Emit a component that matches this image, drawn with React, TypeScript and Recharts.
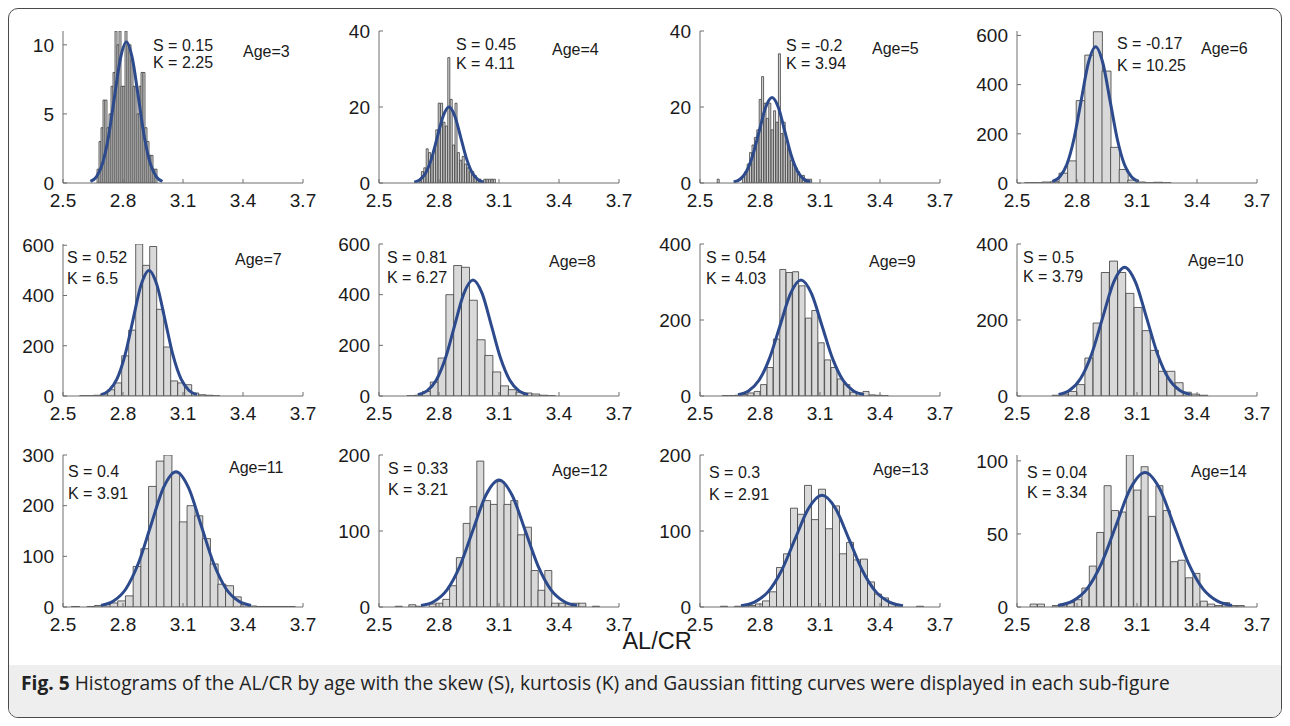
import React from "react";
import { ComposedChart, Bar, Line, XAxis, YAxis } from "recharts";

// ---- data ----
const AGES = [3, 4, 5, 6, 7, 8, 9, 10, 11, 12, 13, 14];
const SKEW = ["0.15", "0.45", "-0.2", "-0.17", "0.52", "0.81", "0.54", "0.5", "0.4", "0.33", "0.3", "0.04"];
const KURT = ["2.25", "4.11", "3.94", "10.25", "6.5", "6.27", "4.03", "3.79", "3.91", "3.21", "2.91", "3.34"];
const X_TICKS = [2.5, 2.8, 3.1, 3.4, 3.7];
const Y_MAX = [11, 40, 40, 618, 605, 600, 400, 400, 300, 200, 200, 104];
const Y_TICKS = [
  [0, 5, 10], [0, 20, 40], [0, 20, 40], [0, 200, 400, 600],
  [0, 200, 400, 600], [0, 200, 400, 600], [0, 200, 400], [0, 200, 400],
  [0, 100, 200, 300], [0, 100, 200], [0, 100, 200], [0, 50, 100],
];

const age3Bins = [2.675, 2.685, 2.695, 2.705, 2.715, 2.725, 2.735, 2.745, 2.755, 2.765, 2.775, 2.785, 2.795, 2.805, 2.815, 2.825, 2.835, 2.845, 2.855, 2.865, 2.875, 2.885, 2.895, 2.905, 2.915, 2.925, 2.935, 2.945, 2.955, 2.965];
const age3Counts = [1, 3, 4, 6, 6, 4, 5, 7, 8, 11, 10, 11, 7, 7, 11, 10, 10, 9, 7, 7, 5, 7, 8, 8, 4, 3, 2, 2, 1, 1];
const age3FitX = [2.637, 2.667, 2.697, 2.727, 2.757, 2.787, 2.817, 2.847, 2.877, 2.907, 2.937, 2.967, 2.997];
const age3FitY = [0.11, 0.45, 1.38, 3.31, 6.19, 9.0, 10.2, 9.0, 6.19, 3.31, 1.38, 0.45, 0.11];

const age4Bins = [2.706, 2.718, 2.73, 2.742, 2.754, 2.766, 2.778, 2.79, 2.802, 2.814, 2.826, 2.838, 2.85, 2.862, 2.874, 2.886, 2.898, 2.91, 2.922, 2.934, 2.946, 2.958, 2.97, 2.982, 2.994, 3.006, 3.018, 3.03, 3.042, 3.054, 3.066, 3.078];
const age4Counts = [1, 3, 4, 9, 8, 7, 9, 14, 21, 21, 16, 15, 33, 22, 10, 21, 8, 6, 7, 5, 4, 3, 3, 2, 1, 1, 0, 1, 1, 1, 1, 1];
const age4FitX = [2.676, 2.705, 2.734, 2.763, 2.792, 2.821, 2.85, 2.879, 2.908, 2.937, 2.966, 2.995, 3.024];
const age4FitY = [0.22, 0.88, 2.71, 6.49, 12.13, 17.65, 20, 17.65, 12.13, 6.49, 2.71, 0.88, 0.22];

const age5Bins = [2.592, 2.718, 2.73, 2.742, 2.754, 2.766, 2.778, 2.79, 2.802, 2.814, 2.826, 2.838, 2.85, 2.862, 2.874, 2.886, 2.898, 2.91, 2.922, 2.934, 2.946, 2.958, 2.97, 2.982, 2.994, 3.006, 3.018, 3.03, 3.042, 3.054];
const age5Counts = [1, 2, 3, 5, 8, 10, 12, 14, 22, 28, 21, 17, 21, 14, 19, 16, 34, 13, 16, 11, 9, 6, 5, 4, 3, 2, 2, 1, 1, 1];
const age5FitX = [2.668, 2.7, 2.732, 2.764, 2.796, 2.828, 2.86, 2.892, 2.924, 2.956, 2.988, 3.02, 3.052];
const age5FitY = [0.25, 0.99, 3.04, 7.31, 13.65, 19.86, 22.5, 19.86, 13.65, 7.31, 3.04, 0.99, 0.25];

const age6Bins = [2.5595, 2.6025, 2.6455, 2.6885, 2.7315, 2.7745, 2.8175, 2.8605, 2.9035, 2.9465, 2.9895, 3.0325, 3.0755, 3.1185, 3.1615, 3.2045, 3.2475];
const age6Counts = [1, 1, 4, 5, 40, 90, 335, 520, 615, 455, 145, 55, 12, 4, 1, 3, 1];
const age6FitX = [2.677, 2.713, 2.749, 2.785, 2.821, 2.857, 2.893, 2.929, 2.965, 3.001, 3.037, 3.073, 3.109];
const age6FitY = [6.1, 24.3, 75.0, 179.9, 336.0, 488.9, 554, 488.9, 336.0, 179.9, 75.0, 24.3, 6.1];

const age7Bins = [2.601, 2.636, 2.671, 2.706, 2.741, 2.776, 2.811, 2.846, 2.881, 2.916, 2.951, 2.986, 3.021, 3.056, 3.091, 3.126, 3.161, 3.196, 3.231, 3.266];
const age7Counts = [1, 1, 3, 8, 25, 52, 160, 262, 605, 520, 595, 345, 195, 60, 52, 45, 12, 5, 3, 1];
const age7FitX = [2.69, 2.73, 2.77, 2.81, 2.85, 2.89, 2.93, 2.97, 3.01, 3.05, 3.09, 3.13, 3.17];
const age7FitY = [5.6, 22.0, 67.7, 162.4, 303.3, 441.3, 500, 441.3, 303.3, 162.4, 67.7, 22.0, 5.6];

const age8Bins = [2.659, 2.698, 2.737, 2.776, 2.815, 2.854, 2.893, 2.932, 2.971, 3.01, 3.049, 3.088, 3.127, 3.166, 3.205, 3.244, 3.283, 3.322, 3.361];
const age8Counts = [1, 3, 18, 55, 150, 400, 515, 508, 378, 222, 160, 95, 40, 25, 15, 12, 8, 3, 1];
const age8FitX = [2.694, 2.74, 2.786, 2.832, 2.878, 2.924, 2.97, 3.016, 3.062, 3.108, 3.154, 3.2, 3.246];
const age8FitY = [5.1, 20.1, 62.0, 148.7, 277.8, 404.2, 458, 404.2, 277.8, 148.7, 62.0, 20.1, 5.1];

const age9Bins = [2.627, 2.659, 2.691, 2.723, 2.755, 2.787, 2.819, 2.851, 2.883, 2.915, 2.947, 2.979, 3.011, 3.043, 3.075, 3.107, 3.139, 3.171, 3.203, 3.235, 3.267, 3.299, 3.331, 3.363, 3.395, 3.427];
const age9Counts = [1, 1, 2, 4, 8, 12, 30, 75, 150, 333, 325, 327, 290, 205, 225, 140, 95, 75, 45, 30, 10, 8, 12, 3, 2, 1];
const age9FitX = [2.69, 2.7425, 2.795, 2.8475, 2.9, 2.9525, 3.005, 3.0575, 3.11, 3.1625, 3.215, 3.2675, 3.32];
const age9FitY = [3.4, 13.4, 41.3, 99.0, 185.0, 269.2, 305, 269.2, 185.0, 99.0, 41.3, 13.4, 3.4];

const age10Bins = [2.696, 2.737, 2.778, 2.819, 2.86, 2.901, 2.942, 2.983, 3.024, 3.065, 3.106, 3.147, 3.188, 3.229, 3.27, 3.311, 3.352, 3.393, 3.434];
const age10Counts = [2, 5, 12, 30, 100, 192, 325, 355, 325, 270, 233, 172, 120, 65, 65, 35, 10, 5, 2];
const age10FitX = [2.708, 2.763, 2.818, 2.873, 2.928, 2.983, 3.038, 3.093, 3.148, 3.203, 3.258, 3.313, 3.368];
const age10FitY = [3.8, 14.9, 45.9, 110.1, 205.6, 299.2, 339, 299.2, 205.6, 110.1, 45.9, 14.9, 3.8];

const age11Bins = [2.562, 2.6005, 2.639, 2.6775, 2.716, 2.7545, 2.793, 2.8315, 2.87, 2.9085, 2.947, 2.9855, 3.024, 3.0625, 3.101, 3.1395, 3.178, 3.2165, 3.255, 3.2935, 3.332, 3.3705, 3.409, 3.4475, 3.486, 3.5245, 3.563, 3.6015, 3.64];
const age11Counts = [1, 0, 1, 3, 5, 8, 12, 22, 80, 115, 238, 288, 300, 265, 168, 200, 180, 135, 85, 45, 42, 20, 5, 2, 1, 1, 1, 1, 1];
const age11FitX = [2.69, 2.7525, 2.815, 2.8775, 2.94, 3.0025, 3.065, 3.1275, 3.19, 3.2525, 3.315, 3.3775, 3.44];
const age11FitY = [3.0, 11.7, 36.1, 86.7, 161.9, 235.6, 267, 235.6, 161.9, 86.7, 36.1, 11.7, 3.0];

const age12Bins = [2.598, 2.632, 2.666, 2.7, 2.734, 2.768, 2.802, 2.836, 2.87, 2.904, 2.938, 2.972, 3.006, 3.04, 3.074, 3.108, 3.142, 3.176, 3.21, 3.244, 3.278, 3.312, 3.346, 3.38, 3.414, 3.448, 3.482, 3.516, 3.55, 3.584];
const age12Counts = [1, 0, 3, 1, 0, 4, 5, 10, 28, 65, 110, 132, 192, 140, 135, 165, 135, 140, 95, 105, 48, 22, 48, 5, 5, 4, 5, 5, 0, 1];
const age12FitX = [2.71, 2.775, 2.84, 2.905, 2.97, 3.035, 3.1, 3.165, 3.23, 3.295, 3.36, 3.425, 3.49];
const age12FitY = [1.9, 7.3, 22.6, 54.2, 101.3, 147.4, 167, 147.4, 101.3, 54.2, 22.6, 7.3, 1.9];

const age13Bins = [2.62, 2.655, 2.69, 2.725, 2.76, 2.795, 2.83, 2.865, 2.9, 2.935, 2.97, 3.005, 3.04, 3.075, 3.11, 3.145, 3.18, 3.215, 3.25, 3.285, 3.32, 3.355, 3.39, 3.425, 3.46, 3.495, 3.53, 3.565, 3.6];
const age13Counts = [1, 0, 1, 2, 2, 4, 8, 20, 52, 70, 130, 122, 160, 115, 155, 103, 133, 70, 85, 62, 63, 33, 17, 12, 5, 2, 0, 0, 1];
const age13FitX = [2.705, 2.7725, 2.84, 2.9075, 2.975, 3.0425, 3.11, 3.1775, 3.245, 3.3125, 3.38, 3.4475, 3.515];
const age13FitY = [1.6, 6.5, 19.9, 47.7, 89.2, 129.7, 147, 129.7, 89.2, 47.7, 19.9, 6.5, 1.6];

const age14Bins = [2.584, 2.621, 2.658, 2.695, 2.732, 2.769, 2.806, 2.843, 2.88, 2.917, 2.954, 2.991, 3.028, 3.065, 3.102, 3.139, 3.176, 3.213, 3.25, 3.287, 3.324, 3.361, 3.398, 3.435, 3.472, 3.509, 3.546, 3.583, 3.62];
const age14Counts = [2, 2, 0, 1, 2, 3, 5, 13, 28, 51, 83, 66, 65, 104, 80, 96, 62, 83, 66, 31, 32, 20, 23, 4, 2, 1, 3, 1, 1];
const age14FitX = [2.705, 2.7775, 2.85, 2.9225, 2.995, 3.0675, 3.14, 3.2125, 3.285, 3.3575, 3.43, 3.5025, 3.575];
const age14FitY = [1.0, 4.0, 12.4, 29.9, 55.8, 81.2, 92, 81.2, 55.8, 29.9, 12.4, 4.0, 1.0];

const BINS = [age3Bins, age4Bins, age5Bins, age6Bins, age7Bins, age8Bins, age9Bins, age10Bins, age11Bins, age12Bins, age13Bins, age14Bins];
const COUNTS = [age3Counts, age4Counts, age5Counts, age6Counts, age7Counts, age8Counts, age9Counts, age10Counts, age11Counts, age12Counts, age13Counts, age14Counts];
const FIT_X = [age3FitX, age4FitX, age5FitX, age6FitX, age7FitX, age8FitX, age9FitX, age10FitX, age11FitX, age12FitX, age13FitX, age14FitX];
const FIT_Y = [age3FitY, age4FitY, age5FitY, age6FitY, age7FitY, age8FitY, age9FitY, age10FitY, age11FitY, age12FitY, age13FitY, age14FitY];

// ---- layout ----
const FONT = "'Liberation Sans', Arial, sans-serif";
const AXIS = "#6e6e6e";
const TEXT = "#1a1a1a";
const COL_LEFT = [63, 379, 700, 1017];
const ROW_TOP = [30.5, 243.5, 455];
const PLOT_W = 240;
const PLOT_H = 152;
const Y_AXIS_W = 50;
const MARGIN_TOP = 10;

// annotation anchors (absolute px): stats left / first line centre, age label left / centre
const STAT_POS = [
  [153, 46], [456, 45], [786, 46], [1117, 44],
  [67, 258], [387, 258], [706, 258], [1023, 258],
  [68, 472], [388, 469], [709, 473], [1027, 473],
];
const STAT_GAP = [17, 19, 18, 22, 21, 20, 21, 19, 22, 21, 22, 20];
const AGE_POS = [
  [243, 52], [552, 50], [872, 49], [1201, 49],
  [235, 260], [549, 262], [869, 262], [1188, 261],
  [229, 468], [552, 471], [873, 470], [1191, 472],
];

const XTick = (props: any) => {
  const { x, y, payload } = props;
  return (
    <g>
      <line x1={x} x2={x} y1={y} y2={y - 4} stroke={AXIS} strokeWidth={1} />
      <text x={x} y={y + 24} textAnchor="middle" fontSize={19} fill={TEXT} fontFamily={FONT}>
        {payload.value}
      </text>
    </g>
  );
};

const YTick = (props: any) => {
  const { x, y, payload } = props;
  return (
    <g>
      <line x1={x} x2={x + 4} y1={y} y2={y} stroke={AXIS} strokeWidth={1} />
      <text x={x - 9} y={y + 6.8} textAnchor="end" fontSize={19} fill={TEXT} fontFamily={FONT}>
        {payload.value}
      </text>
    </g>
  );
};

function Panel({ i }: { i: number }) {
  const bins = BINS[i].map((x, k) => ({ x, count: COUNTS[i][k] }));
  const fit = FIT_X[i].map((x, k) => ({ x, y: FIT_Y[i][k] }));
  const col = i % 4;
  const row = Math.floor(i / 4);
  return (
    <div
      style={{
        position: "absolute",
        left: COL_LEFT[col] - Y_AXIS_W,
        top: ROW_TOP[row] - MARGIN_TOP,
      }}
    >
      <ComposedChart
        width={Y_AXIS_W + PLOT_W + 20}
        height={MARGIN_TOP + PLOT_H + 30}
        data={bins}
        margin={{ top: MARGIN_TOP, right: 20, bottom: 0, left: 0 }}
        barCategoryGap={0}
        barGap={0}
      >
        <XAxis
          xAxisId="bins"
          dataKey="x"
          type="number"
          domain={[2.5, 3.7]}
          ticks={X_TICKS}
          allowDataOverflow
          height={30}
          tickSize={0}
          tickMargin={0}
          tickLine={false}
          tick={<XTick />}
          axisLine={{ stroke: AXIS, strokeWidth: 1 }}
          interval={0}
        />
        <XAxis xAxisId="fit" dataKey="x" type="number" domain={[2.5, 3.7]} allowDataOverflow hide />
        <YAxis
          domain={[0, Y_MAX[i]]}
          ticks={Y_TICKS[i]}
          allowDataOverflow
          width={Y_AXIS_W}
          tickSize={0}
          tickMargin={0}
          tickLine={false}
          tick={<YTick />}
          axisLine={{ stroke: AXIS, strokeWidth: 1 }}
          interval={0}
        />
        <Bar
          xAxisId="bins"
          dataKey="count"
          fill="#d9d9d9"
          stroke="#3c3c3c"
          strokeWidth={0.8}
          isAnimationActive={false}
        />
        <Line
          xAxisId="fit"
          data={fit}
          dataKey="y"
          type="monotone"
          stroke="#2c4a8c"
          strokeWidth={3}
          dot={false}
          activeDot={false}
          isAnimationActive={false}
        />
      </ComposedChart>
    </div>
  );
}

const labelStyle: React.CSSProperties = {
  position: "absolute",
  fontFamily: FONT,
  fontSize: 16,
  color: TEXT,
  whiteSpace: "nowrap",
  lineHeight: "20px",
  height: 20,
};

export default function App() {
  return (
    <div
      style={{
        position: "absolute",
        left: 0,
        top: 0,
        width: 1290,
        height: 726,
        background: "#fff",
        overflow: "hidden",
        fontFamily: FONT,
      }}
    >
      <div
        style={{
          position: "absolute",
          left: 8,
          top: 8,
          width: 1272,
          height: 708,
          border: "1.5px solid #4a4a4a",
          borderRadius: 10,
          overflow: "hidden",
        }}
      >
        <div
          style={{
            position: "absolute",
            left: 0,
            right: 0,
            top: 656,
            bottom: 0,
            background: "#eeeeee",
          }}
        />
      </div>

      {AGES.map((_, i) => (
        <Panel key={i} i={i} />
      ))}

      {AGES.map((age, i) => (
        <React.Fragment key={"t" + i}>
          <div style={{ ...labelStyle, left: STAT_POS[i][0], top: STAT_POS[i][1] - 10 }}>S = {SKEW[i]}</div>
          <div style={{ ...labelStyle, left: STAT_POS[i][0], top: STAT_POS[i][1] + STAT_GAP[i] - 10 }}>
            K = {KURT[i]}
          </div>
          <div style={{ ...labelStyle, left: AGE_POS[i][0], top: AGE_POS[i][1] - 10 }}>Age={age}</div>
        </React.Fragment>
      ))}

      <div
        style={{
          position: "absolute",
          left: 657 - 60,
          width: 120,
          top: 631,
          height: 20,
          textAlign: "center",
          fontSize: 23.5,
          color: TEXT,
          fontFamily: FONT,
          lineHeight: "20px",
        }}
      >
        AL/CR
      </div>

      <div
        style={{
          position: "absolute",
          left: 21,
          top: 672,
          fontSize: 19.2,
          color: "#222",
          fontFamily: "'Open Sans', 'Noto Sans', sans-serif",
          lineHeight: "22px",
          whiteSpace: "nowrap",
        }}
      >
        <b>Fig. 5</b> Histograms of the AL/CR by age with the skew (S), kurtosis (K) and Gaussian fitting curves were
        displayed in each sub-figure
      </div>
    </div>
  );
}
